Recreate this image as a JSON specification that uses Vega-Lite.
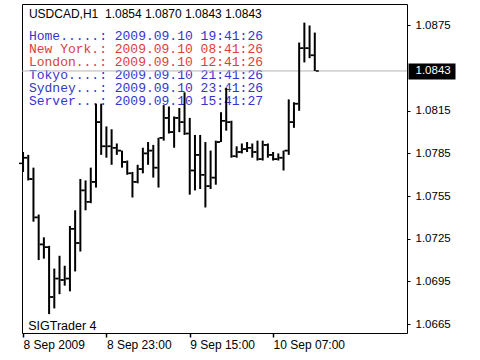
{
  "$schema": "https://vega.github.io/schema/vega-lite/v6.json",
  "width": 385,
  "height": 329,
  "autosize": {"type": "none"},
  "padding": {"left": 22, "top": 4, "right": 73, "bottom": 27},
  "background": "white",
  "config": {
    "view": {"stroke": "black", "strokeWidth": 1},
    "axis": {"labelFont": "Liberation Sans", "labelFontSize": 12, "labelColor": "black", "tickColor": "black", "domain": false, "grid": false, "title": null}
  },
  "datasets": {
    "bars": [
      {"t": "2009-09-08T07:00", "open": 1.0778, "high": 1.0786, "low": 1.0772, "close": 1.0782},
      {"t": "2009-09-08T08:00", "open": 1.0782, "high": 1.0784, "low": 1.0766, "close": 1.0767},
      {"t": "2009-09-08T09:00", "open": 1.0767, "high": 1.0775, "low": 1.0737, "close": 1.0740},
      {"t": "2009-09-08T10:00", "open": 1.0740, "high": 1.0742, "low": 1.0710, "close": 1.0721},
      {"t": "2009-09-08T11:00", "open": 1.0721, "high": 1.0726, "low": 1.0711, "close": 1.0719},
      {"t": "2009-09-08T12:00", "open": 1.0719, "high": 1.0720, "low": 1.0672, "close": 1.0684},
      {"t": "2009-09-08T13:00", "open": 1.0684, "high": 1.0704, "low": 1.0676, "close": 1.0697},
      {"t": "2009-09-08T14:00", "open": 1.0697, "high": 1.0713, "low": 1.0686, "close": 1.0696},
      {"t": "2009-09-08T15:00", "open": 1.0696, "high": 1.0706, "low": 1.0692, "close": 1.0697},
      {"t": "2009-09-08T16:00", "open": 1.0697, "high": 1.0734, "low": 1.0688, "close": 1.0732},
      {"t": "2009-09-08T17:00", "open": 1.0732, "high": 1.0745, "low": 1.0702, "close": 1.0722},
      {"t": "2009-09-08T18:00", "open": 1.0722, "high": 1.0767, "low": 1.0716, "close": 1.0759},
      {"t": "2009-09-08T19:00", "open": 1.0759, "high": 1.0766, "low": 1.0745, "close": 1.0751},
      {"t": "2009-09-08T20:00", "open": 1.0751, "high": 1.0775, "low": 1.0750, "close": 1.0765},
      {"t": "2009-09-08T21:00", "open": 1.0765, "high": 1.0820, "low": 1.0761, "close": 1.0807},
      {"t": "2009-09-08T22:00", "open": 1.0807, "high": 1.0820, "low": 1.0784, "close": 1.0790},
      {"t": "2009-09-08T23:00", "open": 1.0790, "high": 1.0804, "low": 1.0782, "close": 1.0790},
      {"t": "2009-09-09T00:00", "open": 1.0790, "high": 1.0802, "low": 1.0777, "close": 1.0789},
      {"t": "2009-09-09T01:00", "open": 1.0789, "high": 1.0792, "low": 1.0784, "close": 1.0787},
      {"t": "2009-09-09T02:00", "open": 1.0787, "high": 1.0787, "low": 1.0775, "close": 1.0779},
      {"t": "2009-09-09T03:00", "open": 1.0779, "high": 1.0780, "low": 1.0770, "close": 1.0771},
      {"t": "2009-09-09T04:00", "open": 1.0771, "high": 1.0772, "low": 1.0754, "close": 1.0765},
      {"t": "2009-09-09T05:00", "open": 1.0765, "high": 1.0777, "low": 1.0764, "close": 1.0774},
      {"t": "2009-09-09T06:00", "open": 1.0774, "high": 1.0789, "low": 1.0771, "close": 1.0785},
      {"t": "2009-09-09T07:00", "open": 1.0785, "high": 1.0793, "low": 1.0777, "close": 1.0787},
      {"t": "2009-09-09T08:00", "open": 1.0787, "high": 1.0791, "low": 1.0768, "close": 1.0775},
      {"t": "2009-09-09T09:00", "open": 1.0775, "high": 1.0796, "low": 1.0761, "close": 1.0796},
      {"t": "2009-09-09T10:00", "open": 1.0796, "high": 1.0819, "low": 1.0794, "close": 1.0810},
      {"t": "2009-09-09T11:00", "open": 1.0810, "high": 1.0818, "low": 1.0799, "close": 1.0800},
      {"t": "2009-09-09T12:00", "open": 1.0800, "high": 1.0811, "low": 1.0789, "close": 1.0810},
      {"t": "2009-09-09T13:00", "open": 1.0810, "high": 1.0817, "low": 1.0800, "close": 1.0807},
      {"t": "2009-09-09T14:00", "open": 1.0807, "high": 1.0828, "low": 1.0798, "close": 1.0799},
      {"t": "2009-09-09T15:00", "open": 1.0799, "high": 1.0810, "low": 1.0756, "close": 1.0773},
      {"t": "2009-09-09T16:00", "open": 1.0773, "high": 1.0798, "low": 1.0759, "close": 1.0784},
      {"t": "2009-09-09T17:00", "open": 1.0784, "high": 1.0798, "low": 1.0760, "close": 1.0770},
      {"t": "2009-09-09T18:00", "open": 1.0770, "high": 1.0793, "low": 1.0747, "close": 1.0762},
      {"t": "2009-09-09T19:00", "open": 1.0762, "high": 1.0787, "low": 1.0760, "close": 1.0768},
      {"t": "2009-09-09T20:00", "open": 1.0768, "high": 1.0794, "low": 1.0763, "close": 1.0793},
      {"t": "2009-09-09T21:00", "open": 1.0793, "high": 1.0814, "low": 1.0793, "close": 1.0808},
      {"t": "2009-09-09T22:00", "open": 1.0808, "high": 1.0831, "low": 1.0801, "close": 1.0807},
      {"t": "2009-09-09T23:00", "open": 1.0807, "high": 1.0808, "low": 1.0782, "close": 1.0783},
      {"t": "2009-09-10T00:00", "open": 1.0783, "high": 1.0790, "low": 1.0782, "close": 1.0786},
      {"t": "2009-09-10T01:00", "open": 1.0786, "high": 1.0792, "low": 1.0785, "close": 1.0788},
      {"t": "2009-09-10T02:00", "open": 1.0788, "high": 1.0793, "low": 1.0786, "close": 1.0789},
      {"t": "2009-09-10T03:00", "open": 1.0789, "high": 1.0792, "low": 1.0782, "close": 1.0786},
      {"t": "2009-09-10T04:00", "open": 1.0786, "high": 1.0794, "low": 1.0780, "close": 1.0781},
      {"t": "2009-09-10T05:00", "open": 1.0781, "high": 1.0794, "low": 1.0780, "close": 1.0791},
      {"t": "2009-09-10T06:00", "open": 1.0791, "high": 1.0792, "low": 1.0782, "close": 1.0784},
      {"t": "2009-09-10T07:00", "open": 1.0784, "high": 1.0786, "low": 1.0780, "close": 1.0781},
      {"t": "2009-09-10T08:00", "open": 1.0781, "high": 1.0785, "low": 1.0780, "close": 1.0782},
      {"t": "2009-09-10T09:00", "open": 1.0782, "high": 1.0787, "low": 1.0773, "close": 1.0787},
      {"t": "2009-09-10T10:00", "open": 1.0787, "high": 1.0823, "low": 1.0784, "close": 1.0807},
      {"t": "2009-09-10T11:00", "open": 1.0807, "high": 1.0821, "low": 1.0803, "close": 1.0820},
      {"t": "2009-09-10T12:00", "open": 1.0820, "high": 1.0863, "low": 1.0815, "close": 1.0859},
      {"t": "2009-09-10T13:00", "open": 1.0859, "high": 1.0877, "low": 1.0849, "close": 1.0859},
      {"t": "2009-09-10T14:00", "open": 1.0859, "high": 1.0875, "low": 1.0852, "close": 1.0854},
      {"t": "2009-09-10T15:00", "open": 1.0854, "high": 1.0870, "low": 1.0843, "close": 1.0843}
    ],
    "clocks": [
      {"line": 1, "label": "Home.....: 2009.09.10 19:41:26", "session": "other"},
      {"line": 2, "label": "New York.: 2009.09.10 08:41:26", "session": "open"},
      {"line": 3, "label": "London...: 2009.09.10 12:41:26", "session": "open"},
      {"line": 4, "label": "Tokyo....: 2009.09.10 21:41:26", "session": "other"},
      {"line": 5, "label": "Sydney...: 2009.09.10 23:41:26", "session": "other"},
      {"line": 6, "label": "Server...: 2009.09.10 15:41:27", "session": "other"}
    ]
  },
  "layer": [
    {
      "data": {"name": "clocks"},
      "mark": {"type": "text", "font": "Liberation Mono", "fontSize": 13, "align": "left", "baseline": "middle"},
      "encoding": {
        "x": {"datum": {"year": 2009, "month": 9, "date": 8, "hours": 8, "minutes": 8}},
        "y": {"field": "line", "type": "quantitative", "scale": {"domain": [-1.42, 23.69], "reverse": true, "zero": false, "nice": false}, "axis": null},
        "color": {"field": "session", "type": "nominal", "scale": {"domain": ["open", "other"], "range": ["#e03c3c", "#3434d0"]}, "legend": null},
        "text": {"field": "label"}
      }
    },
    {
      "data": {"values": [{"price": 1.0843}]},
      "mark": {"type": "rule", "color": "#b4b4b4", "strokeWidth": 1},
      "encoding": {
        "y": {
          "field": "price", "type": "quantitative",
          "scale": {"domain": [1.06587, 1.08901], "zero": false, "nice": false},
          "axis": {
            "orient": "right", "values": [1.0843], "format": ".4f", "offset": 1,
            "tickSize": 47, "tickWidth": 16, "tickColor": "black", "tickCap": "butt",
            "labelColor": "white", "labelPadding": -40, "labelFontSize": 11.5
          }
        }
      }
    },
    {
      "data": {"name": "bars"},
      "layer": [
        {
          "mark": {"type": "rule", "color": "black", "strokeWidth": 2},
          "encoding": {
            "x": {
              "field": "t", "type": "temporal",
              "scale": {"domain": [{"year": 2009, "month": 9, "date": 8, "hours": 6, "minutes": 48}, {"year": 2009, "month": 9, "date": 11, "hours": 8, "minutes": 42}], "nice": false},
              "axis": {
                "orient": "bottom",
                "values": [
                  {"year": 2009, "month": 9, "date": 8, "hours": 7},
                  {"year": 2009, "month": 9, "date": 8, "hours": 23},
                  {"year": 2009, "month": 9, "date": 9, "hours": 15},
                  {"year": 2009, "month": 9, "date": 10, "hours": 7}
                ],
                "labelExpr": "datum.index == 0 ? '8 Sep 2009' : timeFormat(datum.value, '%-d %b %H:%M')",
                "tickSize": 4, "tickWidth": 1.5, "labelAlign": "left", "labelPadding": 2,
                "labelFlush": false, "labelOverlap": false, "labelFontSize": 12
              }
            },
            "y": {
              "field": "low", "type": "quantitative",
              "scale": {"domain": [1.06587, 1.08901], "zero": false, "nice": false},
              "axis": {
                "orient": "right",
                "values": [1.0875, 1.0815, 1.0785, 1.0755, 1.0725, 1.0695, 1.0665],
                "format": ".4f", "tickSize": 3, "tickWidth": 1, "labelPadding": 5, "labelFontSize": 11.5
              }
            },
            "y2": {"field": "high"}
          }
        },
        {
          "mark": {"type": "tick", "orient": "horizontal", "size": 3, "thickness": 1.5, "xOffset": -2.5, "color": "black", "opacity": 1},
          "encoding": {
            "x": {"field": "t", "type": "temporal"},
            "y": {"field": "open", "type": "quantitative"}
          }
        },
        {
          "mark": {"type": "tick", "orient": "horizontal", "size": 3, "thickness": 1.5, "xOffset": 2.5, "color": "black", "opacity": 1},
          "encoding": {
            "x": {"field": "t", "type": "temporal"},
            "y": {"field": "close", "type": "quantitative"}
          }
        },
        {
          "data": {"values": [{"label": "USDCAD,H1\u00a0 1.0854 1.0870 1.0843 1.0843"}]},
          "mark": {"type": "text", "font": "Liberation Sans", "fontSize": 12, "align": "left", "baseline": "middle", "color": "black"},
          "encoding": {
            "x": {"datum": {"year": 2009, "month": 9, "date": 8, "hours": 8, "minutes": 8}},
            "y": {"datum": 1.08831},
            "text": {"field": "label"}
          }
        },
        {
          "data": {"values": [{"label": "SIGTrader 4"}]},
          "mark": {"type": "text", "font": "Liberation Sans", "fontSize": 12.5, "align": "left", "baseline": "middle", "color": "black"},
          "encoding": {
            "x": {"datum": {"year": 2009, "month": 9, "date": 8, "hours": 8, "minutes": 0}},
            "y": {"datum": 1.06637},
            "text": {"field": "label"}
          }
        }
      ]
    }
  ],
  "resolve": {"scale": {"y": "independent"}, "axis": {"y": "independent"}}
}
